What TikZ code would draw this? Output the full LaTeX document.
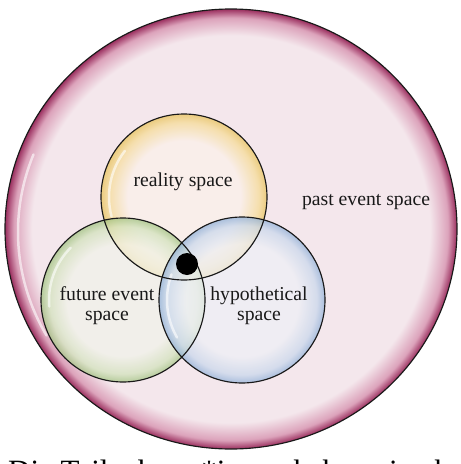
\documentclass[tikz,border=0pt]{standalone}
\usepackage{fontspec}
\setmainfont{Liberation Serif}
\usetikzlibrary{shapes.geometric}
\definecolor{pin}{HTML}{F4E7EC}
\definecolor{pmid}{HTML}{DCA3BB}
\definecolor{pout}{HTML}{9A2E5E}
\definecolor{yin}{HTML}{FBF1EA}
\definecolor{ymid}{HTML}{F6DC98}
\definecolor{yout}{HTML}{E8C35C}
\definecolor{gin}{HTML}{F1F3EA}
\definecolor{gmid}{HTML}{D2E2BC}
\definecolor{gout}{HTML}{A2C382}
\definecolor{bin}{HTML}{EEF0F6}
\definecolor{bmid}{HTML}{CAD8EC}
\definecolor{bout}{HTML}{92B1D8}
\pgfdeclareradialshading{pinkring}{\pgfpoint{0bp}{0bp}}{color(0bp)=(pin); color(22bp)=(pin); color(24bp)=(pmid); color(25bp)=(pout); color(50bp)=(pout)}
\pgfdeclareradialshading{yring}{\pgfpoint{0bp}{0bp}}{color(0bp)=(yin); color(17bp)=(yin); color(22.5bp)=(ymid); color(25bp)=(yout); color(50bp)=(yout)}
\pgfdeclareradialshading{gring}{\pgfpoint{0bp}{0bp}}{color(0bp)=(gin); color(17bp)=(gin); color(22.5bp)=(gmid); color(25bp)=(gout); color(50bp)=(gout)}
\pgfdeclareradialshading{bring}{\pgfpoint{0bp}{0bp}}{color(0bp)=(bin); color(17bp)=(bin); color(22.5bp)=(bmid); color(25bp)=(bout); color(50bp)=(bout)}
\tikzset{
  rim/.style={draw=black!90, line width=1.15pt},
  lbl/.style={font=\fontsize{19.7}{20}\selectfont, align=center, inner sep=0pt, text=black!90},
  gloss/.style={draw=white, line width=2.5pt, opacity=0.6, line cap=round},
}
\begin{document}
\begin{tikzpicture}[x=1pt,y=-1pt]
\useasboundingbox (0,0) rectangle (461,464);
\fill[white] (0,0) rectangle (461,464);
% past event space
\shade[shading=pinkring] (231,229) ellipse [x radius=226, y radius=220];
\draw[gloss] (231,229) ++(150:213) arc[start angle=150, end angle=202, x radius=213, y radius=207];
% three bubbles (fills)
\shade[shading=yring, fill opacity=0.75] (184,197) circle (83);
\shade[shading=gring, fill opacity=0.75] (123,300) circle (82);
\shade[shading=bring, fill opacity=0.75] (242,300) circle (83);
\draw[gloss] (184,197) ++(165:75) arc[start angle=165, end angle=218, radius=75];
\draw[gloss] (123,300) ++(175:74) arc[start angle=175, end angle=225, radius=74];
\draw[gloss] (242,300) ++(150:75) arc[start angle=150, end angle=200, radius=75];
% outlines as named nodes
\node[ellipse, rim, minimum width=452pt, minimum height=440pt, inner sep=0pt] (past) at (231,229) {};
\node[circle, rim, minimum size=166pt, inner sep=0pt] (reality) at (184,197) {};
\node[circle, rim, minimum size=164pt, inner sep=0pt] (future) at (123,300) {};
\node[circle, rim, minimum size=166pt, inner sep=0pt] (hypo) at (242,300) {};
\node[circle, fill=black, minimum size=22pt, inner sep=0pt] (dot) at (187,264) {};
% labels
\node[lbl] (lreal) at (183,182) {reality space};
\node[lbl] (lpast) at (366,202) {past event space};
\node[lbl] (lfut) at (107,306) {future event\\space};
\node[lbl] (lhyp) at (259,306) {hypothetical\\space};
% cut-off caption
\begin{scope}
\clip (0,0) rectangle (461,464);
\node[anchor=base west, inner sep=0pt, font=\fontsize{31}{34}\selectfont] (cap) at (8,481) {Die Teilnehmer*innen haben eine bestimmte};
\end{scope}
\end{tikzpicture}
\end{document}
